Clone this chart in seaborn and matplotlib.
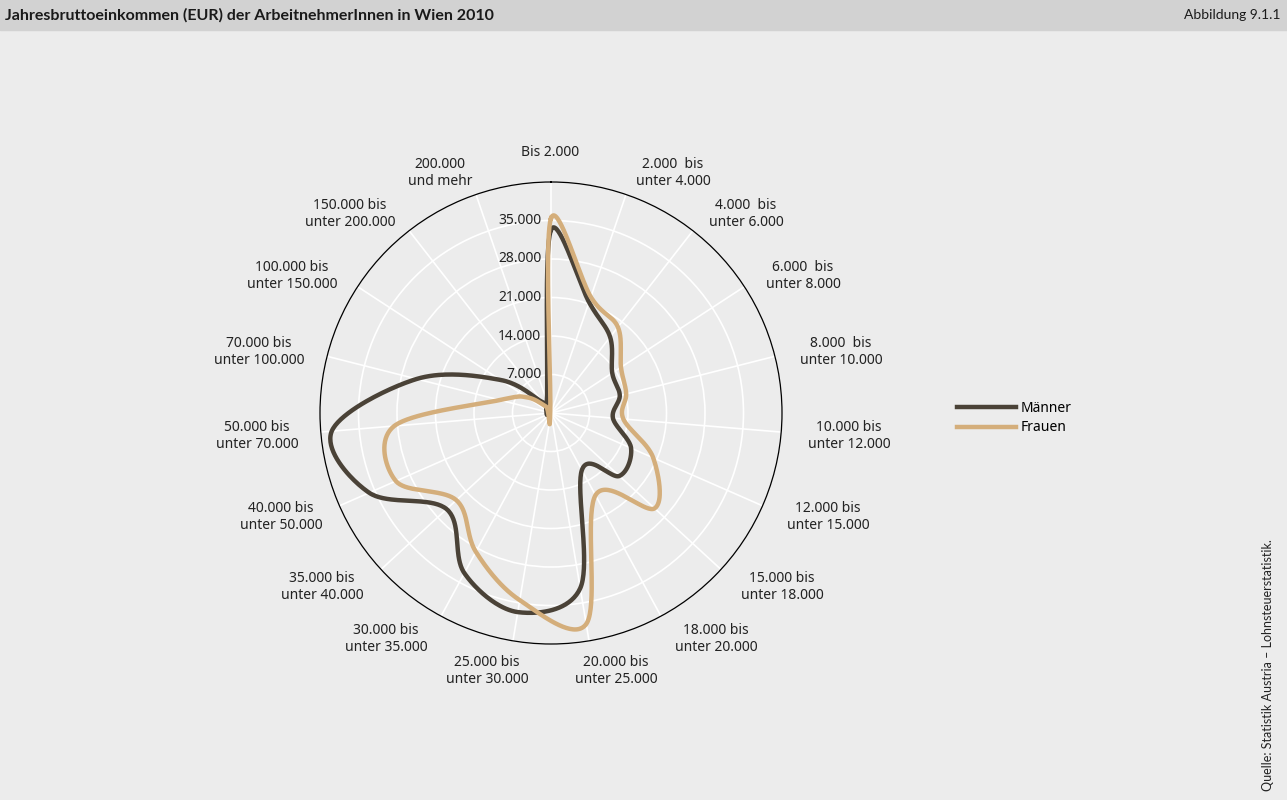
import numpy as np
import pandas as pd
import matplotlib.pyplot as plt
import seaborn as sns

# data (EUR classes, number of employees)
kategorien = ["Bis 2.000", "2.000  bis\nunter 4.000", "4.000  bis\nunter 6.000",
              "6.000  bis\nunter 8.000", "8.000  bis\nunter 10.000", "10.000 bis\nunter 12.000",
              "12.000 bis\nunter 15.000", "15.000 bis\nunter 18.000", "18.000 bis\nunter 20.000",
              "20.000 bis\nunter 25.000", "25.000 bis\nunter 30.000", "30.000 bis\nunter 35.000",
              "35.000 bis\nunter 40.000", "40.000 bis\nunter 50.000", "50.000 bis\nunter 70.000",
              "70.000 bis\nunter 100.000", "100.000 bis\nunter 150.000", "150.000 bis\nunter 200.000",
              "200.000\nund mehr"]
maenner = [33300, 21300, 17500, 13300, 12900, 11300, 15900, 16900, 11800, 32300,
           36700, 33100, 25800, 36100, 40000, 25200, 11000, 2500, 2300]
frauen = [35400, 22300, 19800, 15200, 14100, 13200, 20300, 25600, 17000, 38900,
          34500, 28700, 23400, 30800, 28600, 9600, 5200, 1500, 400]
ring_werte = [7000, 14000, 21000, 28000, 35000]
ring_labels = ["7.000", "14.000", "21.000", "28.000", "35.000"]
r_max = 42000

# label centres in pixels (layout only)
label_pos = [(550, 152), (673, 173), (746, 214), (803, 276), (841, 352), (849, 436),
             (828, 517), (782, 587), (716, 639), (616, 671), (487, 671), (386, 639),
             (322, 587), (281, 517), (257, 436), (259, 352), (292, 276), (350, 214),
             (440, 173)]

W, H = 1287, 800
plt.rcParams['font.family'] = ['Noto Sans', 'DejaVu Sans']
plt.rcParams['xtick.major.size'] = 0
plt.rcParams['ytick.major.size'] = 0
plt.rcParams['xtick.minor.size'] = 0
plt.rcParams['ytick.minor.size'] = 0


def smooth_closed(values, steps=40):
    # closed Catmull-Rom spline through the points (like a smoothed line)
    vals = np.asarray(values, float)
    n = len(vals)
    ang = np.arange(n) * 2 * np.pi / n
    pts = np.column_stack([vals * np.sin(ang), vals * np.cos(ang)])
    t = np.linspace(0, 1, steps, endpoint=False)[:, None]
    segs = []
    for i in range(n):
        p0, p1, p2, p3 = pts[(i - 1) % n], pts[i], pts[(i + 1) % n], pts[(i + 2) % n]
        segs.append(0.5 * (2 * p1 + (-p0 + p2) * t + (2 * p0 - 5 * p1 + 4 * p2 - p3) * t ** 2
                           + (-p0 + 3 * p1 - 3 * p2 + p3) * t ** 3))
    segs.append(pts[:1])
    xy = np.vstack(segs)
    theta = np.unwrap(np.arctan2(xy[:, 0], xy[:, 1]))
    return theta, np.hypot(xy[:, 0], xy[:, 1])


frames = []
for name, vals in [("Männer", maenner), ("Frauen", frauen)]:
    th, r = smooth_closed(vals)
    frames.append(pd.DataFrame({"theta": th, "r": r, "Geschlecht": name}))
df = pd.concat(frames, ignore_index=True)

fig = plt.figure(figsize=(W / 100, H / 100), dpi=100, facecolor='#ececec')

# header band
fig.patches.append(plt.Rectangle((0, 1 - 30 / H), 1, 30 / H, transform=fig.transFigure,
                                 color='#d2d2d2', zorder=0))
fig.text(5 / W, 1 - 15 / H, "Jahresbruttoeinkommen (EUR) der ArbeitnehmerInnen in Wien 2010",
         fontsize=11.5, fontweight='bold', ha='left', va='center', color='#1a1a1a',
         family=['Lato', 'DejaVu Sans'])
fig.text(1281 / W, 1 - 15 / H, "Abbildung 9.1.1", fontsize=10, ha='right', va='center',
         color='#1a1a1a', family=['Lato', 'DejaVu Sans'])

cx, cy, rad = 551, 413, 231
ax = fig.add_axes([(cx - rad) / W, 1 - (cy + rad) / H, 2 * rad / W, 2 * rad / H], projection='polar')
ax.set_facecolor('#ececec')
ax.set_theta_zero_location('N')
ax.set_theta_direction(-1)

sns.lineplot(data=df, x="theta", y="r", hue="Geschlecht", sort=False, estimator=None,
             palette={"Männer": "#4a4237", "Frauen": "#d4ae7b"}, linewidth=3.2, ax=ax)

ax.set_ylim(0, r_max)
ax.set_rlabel_position(90)
ax.set_xticks(np.arange(len(kategorien)) * 2 * np.pi / len(kategorien))
ax.set_xticklabels([])
ax.set_yticks(ring_werte)
ax.set_yticklabels([])
ax.set_xlabel("")
ax.set_ylabel("")
ax.grid(True, color='white', linewidth=1.2)
ax.spines['polar'].set_color('black')
ax.spines['polar'].set_linewidth(0.9)
ax.tick_params(which='both', length=0, width=0, pad=0)

for v, lab in zip(ring_werte, ring_labels):
    ax.annotate(lab, xy=(0, v), xytext=(-7, 0), textcoords='offset points',
                ha='right', va='center', fontsize=10, color='#222222')

for lab, (px, py) in zip(kategorien, label_pos):
    fig.text(px / W, 1 - py / H, lab, ha='center', va='center', multialignment='center',
             fontsize=10, color='#222222', linespacing=1.2)

handles, labels = ax.get_legend_handles_labels()
ax.get_legend().remove()
fig.legend(handles, labels, loc='center left', bbox_to_anchor=(944 / W, 1 - 418 / H),
           frameon=False, fontsize=10, handlelength=4.3, handletextpad=0.3,
           labelspacing=0.35)

fig.text(1268 / W, 1 - 665 / H, "Quelle: Statistik Austria – Lohnsteuerstatistik.",
         rotation=90, ha='center', va='center', fontsize=9, color='#222222',
         family=['Lato', 'DejaVu Sans'])

fig.savefig("out.png", dpi=100, facecolor=fig.get_facecolor())
